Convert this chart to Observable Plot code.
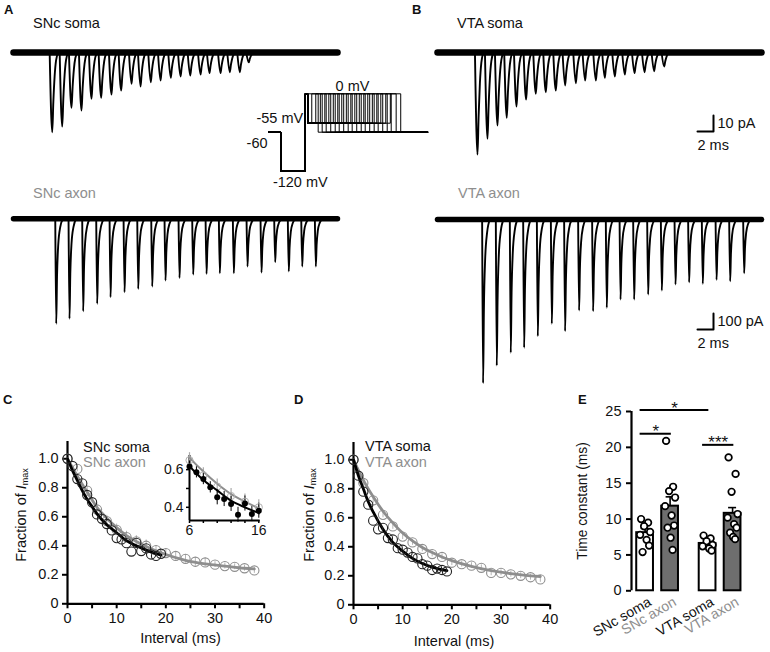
<!DOCTYPE html>
<html><head><meta charset="utf-8">
<script src="https://cdn.jsdelivr.net/npm/d3@7"></script>
<script src="https://cdn.jsdelivr.net/npm/@observablehq/plot@0.6"></script>
<style>
body{margin:0;background:#fff;}
#fig{position:relative;width:770px;height:652px;overflow:hidden;background:#fff;font-family:"Liberation Sans",Arial,sans-serif;}
#fig sub{font-size:0.62em;vertical-align:-0.25em;}
</style></head><body><div id="fig"></div>
<script>
// ---------------- DATA ----------------
// A/B: overlaid Na-current sweeps — peak time of each test spike (ms) and peak amplitude (pA)
const snSomaT = [4.84,6.09,7.25,8.5,9.75,10.96,12.25,13.46,14.75,15.88,17.16,18.38,19.66,20.88,22.09,23.38,24.5,25.88,27.04,28.29,29.41];
const snSomaA = [49.8,46.3,34.6,36.3,28.9,28.3,26.3,23.8,19.6,21.3,18.6,17.5,15.8,15,14.4,13.8,12.9,12.9,12.3,12.3,6.1];
const snAxonT = [5.34,7.0,8.71,10.46,12.13,13.88,15.59,17.34,19.0,20.75,22.46,24.13,25.79,27.54,29.25,31.0,32.71,34.41,36.09,37.79];
const snAxonA = [656,625,578,531,490,459,438,423,386,369,348,344,340,340,298,336,271,329,298,298];
const vtaSomaT = [5.0,6.25,7.5,8.66,9.88,11.08,12.29,13.54,14.79,15.95,17.29,18.45,19.79,20.91,22.16,23.41,24.63,25.88,27.08,28.33];
const vtaSomaA = [63.8,53.9,45.6,40.8,33.8,29.4,25.8,24.8,23.8,20.6,19.2,17.5,17.5,15.8,15,13.8,12.9,12.3,11.7,8.8];
const vtaAxonT = [5.7,7.41,9.16,10.83,12.54,14.29,15.95,17.7,19.45,21.16,22.88,24.58,26.33,28.04,29.75,31.45,33.16,34.88,36.58,38.33];
const vtaAxonA = [1023,913,833,802,729,652,698,569,573,552,500,500,469,444,406,392,402,377,386,336];
const sweepDur = 40.5;                       // ms of recorded baseline
const somaShape = [[-0.32,0],[0,1],[0.14,0.62],[0.3,0.3],[0.48,0.1],[0.75,0]];   // time offset (ms), fraction of peak
const axonShape = [[-0.12,0],[0,1],[0.1,0.55],[0.25,0.25],[0.5,0.08],[0.85,0]];
const scaleBarMs = 2, scaleBarSomaPA = 10, scaleBarAxonPA = 100;

// Voltage protocol (schematic)
const protoHold = -60, protoHyper = -120, protoInter = -55, protoStep = 0;
const protoHyperStart = 1.54, protoStepStart = 4.58, protoPrepulseEnd = 4.9, protoEnd = 19.9, protoPulseW = 1.3;
const protoTestStarts = [4.91,5.41,5.91,6.48,7.04,7.54,8.1,8.66,9.16,9.73,10.29,10.79,11.35,11.91,12.41,12.98,13.54,14.04,14.66,15.23];

// C/D: recovery from inactivation (fraction of Imax vs interval, ms)
const somaIntervals = [0,1,2,3,4,5,6,7,8,9,10,11,12,13,14,15,16,17,18,19];
const axonIntervals = [0,2,4,6,8,10,12,14,16,18,20,22,24,26,28,30,32,34,36,38];
const snSomaFrac = [1.0,0.95,0.86,0.83,0.75,0.70,0.616,0.586,0.55,0.506,0.453,0.444,0.418,0.36,0.42,0.364,0.382,0.34,0.33,0.345];
const snSomaErr  = [0,0.02,0.02,0.03,0.03,0.03,0.03,0.03,0.03,0.03,0.04,0.04,0.04,0.04,0.04,0.04,0.04,0.03,0.03,0.03];
const snAxonFrac = [1.0,0.93,0.78,0.65,0.57,0.51,0.46,0.43,0.40,0.37,0.35,0.33,0.31,0.29,0.285,0.27,0.26,0.255,0.245,0.23];
const snAxonErr  = [0,0.02,0.03,0.04,0.04,0.04,0.04,0.04,0.04,0.03,0.03,0.03,0.03,0.03,0.03,0.02,0.02,0.02,0.02,0.02];
const snSomaFitT = [0,1,2,3,4,5,6,8,10,12,14,16,18,19];
const snSomaFitV = [1.0,0.92,0.85,0.78,0.72,0.67,0.62,0.545,0.49,0.435,0.40,0.37,0.345,0.335];
const snAxonFitT = [0,2,4,6,8,10,12,14,16,18,20,24,28,32,36,38];
const snAxonFitV = [1.0,0.88,0.77,0.665,0.59,0.525,0.47,0.43,0.395,0.365,0.34,0.30,0.275,0.26,0.245,0.24];
const vtaSomaFrac = [1.0,0.89,0.78,0.69,0.58,0.52,0.53,0.46,0.45,0.39,0.38,0.36,0.33,0.32,0.28,0.27,0.24,0.25,0.24,0.23];
const vtaAxonFrac = [1.0,0.84,0.72,0.62,0.54,0.47,0.43,0.385,0.35,0.33,0.29,0.28,0.27,0.255,0.22,0.22,0.21,0.20,0.19,0.175];
const vtaAxonErr  = [0,0.02,0.02,0.02,0.02,0.02,0.02,0.02,0.02,0.02,0.02,0.02,0.02,0.02,0.02,0.02,0.02,0.02,0.02,0.02];
const vtaSomaFitT = [0,1,2,3,4,6,8,10,12,14,16,19];
const vtaSomaFitV = [1.0,0.89,0.80,0.71,0.64,0.52,0.43,0.37,0.32,0.285,0.26,0.235];
const vtaAxonFitT = [0,2,4,6,8,10,12,14,16,18,20,24,28,32,36,38];
const vtaAxonFitV = [1.0,0.86,0.745,0.645,0.565,0.495,0.44,0.395,0.36,0.33,0.305,0.265,0.235,0.215,0.20,0.195];

// E: time constants (ms)
const groups = ["SNc soma","SNc axon","VTA soma","VTA axon"];
const tauMean = [8.1, 11.8, 6.6, 10.8];
const tauSem  = [0.6, 1.3, 0.5, 0.8];
const tauCells = [
  [10.0,9.5,9.0,8.2,7.8,7.1,6.3,5.4],
  [20.9,14.5,13.9,13.0,11.8,10.5,9.1,8.8,7.4,5.7],
  [7.7,7.3,6.9,6.4,6.2,5.9,5.6],
  [18.6,16.3,13.8,10.7,10.2,9.3,8.8,8.1,7.5,7.2]
];
const sigTests = [{a:0,b:2,y:25.2,label:"*"},{a:0,b:1,y:21.9,label:"*"},{a:2,b:3,y:20.35,label:"***"}];
const eTicks = [0,5,10,15,20,25];

// ---------------- STYLE / HELPERS ----------------
const GRAY = "#8e8e8e";
const FONT = "'Liberation Sans', Arial, sans-serif";
const fig = document.getElementById("fig");
const baseStyle = {background:"none", overflow:"visible", fontFamily:FONT};
function place(node, left, top){ node.style.position="absolute"; node.style.left=left+"px"; node.style.top=top+"px"; node.style.maxWidth="none"; fig.appendChild(node); }
function addText(html, x, y, o={}){
  const d=document.createElement("div"); d.innerHTML=html;
  d.style.cssText=`position:absolute;left:${x}px;top:${y}px;font-size:${o.size||14.5}px;color:${o.color||"#111"};font-weight:${o.bold?"bold":"normal"};line-height:1;white-space:nowrap;`;
  if(o.center) d.style.transform=`translate(-50%,-50%)`+(o.rotate?` rotate(${o.rotate}deg)`:"");
  fig.appendChild(d);
}
const rows = (ts, vs, es) => ts.map((t,i)=>({t, v:vs[i], e: es ? es[i] : 0}));

// ---------------- A/B TRACES ----------------
function tracePlot({times, amps, shape, pxPerPA, left, top, above, below, width, bandW, bar}){
  const pts=[]; times.forEach((t0,i)=>shape.forEach(([dt,f])=>pts.push({sweep:i, t:t0+dt, pA:-amps[i]*f})));
  const marks=[
    Plot.line([[0,0],[sweepDur,0]],{stroke:"#000",strokeWidth:bandW}),
    Plot.line(pts,{x:"t",y:"pA",z:"sweep",stroke:"#000",strokeWidth:1.9,curve:"monotone-x"})
  ];
  if(bar){
    marks.push(Plot.line([[bar.t,bar.pA],[bar.t+scaleBarMs,bar.pA],[bar.t+scaleBarMs,bar.pA+bar.size]],{stroke:"#000",strokeWidth:2}));
    marks.push(Plot.text([bar.size+" pA"],{x:bar.t+scaleBarMs,y:bar.pA+bar.size/2,text:d=>d,textAnchor:"start",dx:4,fontSize:14.5,fill:"#111"}));
    marks.push(Plot.text([scaleBarMs+" ms"],{x:bar.t,y:bar.pA,text:d=>d,textAnchor:"start",dy:14,fontSize:14.5,fill:"#111"}));
  }
  const p=Plot.plot({width, height:above+below, margin:0, style:baseStyle,
    x:{domain:[0,width/8], axis:null}, y:{domain:[-below/pxPerPA, above/pxPerPA], axis:null}, marks});
  place(p,left,top);
}
tracePlot({times:snSomaT, amps:snSomaA, shape:somaShape, pxPerPA:1.6, left:13, top:30, above:22, below:110, width:330, bandW:6.5});
tracePlot({times:snAxonT, amps:snAxonA, shape:axonShape, pxPerPA:0.16, left:13, top:205, above:13.3, below:125, width:330, bandW:5.5});
tracePlot({times:vtaSomaT, amps:vtaSomaA, shape:somaShape, pxPerPA:1.6, left:436.7, top:30, above:22, below:130, width:333, bandW:6.5,
  bar:{t:32.5, pA:-49.4, size:scaleBarSomaPA}});
tracePlot({times:vtaAxonT, amps:vtaAxonA, shape:axonShape, pxPerPA:0.16, left:436.7, top:205, above:14, below:180, width:333, bandW:5.5,
  bar:{t:32.5, pA:-687.5, size:scaleBarAxonPA}});

// voltage protocol
{
  const pts=[];
  protoTestStarts.forEach((u,i)=>{
    [[0,protoHold],[protoHyperStart,protoHold],[protoHyperStart,protoHyper],[protoStepStart,protoHyper],[protoStepStart,protoStep],
     [protoPrepulseEnd,protoStep],[protoPrepulseEnd,protoInter],[u,protoInter],[u,protoStep],[u+protoPulseW,protoStep],
     [u+protoPulseW,protoHold],[protoEnd,protoHold]].forEach(([t,v],k)=>pts.push({sweep:i,k,t,v}));
  });
  const p=Plot.plot({width:protoEnd*8, height:100, margin:0, style:baseStyle,
    x:{domain:[0,protoEnd], axis:null},
    y:{type:"linear", domain:[protoHyper,protoHold,protoInter,protoStep], range:[90.7,51.7,42.7,13.3], axis:null},
    marks:[
      Plot.line(pts,{x:"t",y:"v",z:"sweep",stroke:"#000",strokeWidth:1}),
      Plot.text([protoStep],{x:10.5,y:d=>d,text:d=>d+" mV",dy:-7,fontSize:14.5,fill:"#111"}),
      Plot.text([protoInter],{x:protoStepStart,y:d=>d,text:d=>d+" mV",textAnchor:"end",dx:-2,dy:-5,fontSize:14.5,fill:"#111"}),
      Plot.text([protoHold],{x:0,y:d=>d,text:d=>String(d),textAnchor:"end",dx:-1,dy:11,fontSize:14.5,fill:"#111"}),
      Plot.text([protoHyper],{x:0.55,y:d=>d,text:d=>d+" mV",textAnchor:"start",dy:11,fontSize:14.5,fill:"#111"})
    ]});
  place(p,267.7,80);
}

// ---------------- C/D DECAY ----------------
const xTicks=[0,5,10,15,20,25,30,35,40];
function decayPlot({left, top, soma, axon, somaFit, axonFit}){
  const yMax=1.119;
  const p=Plot.plot({width:266.7, height:210.3, marginLeft:50, marginRight:20, marginTop:5, marginBottom:43, style:{...baseStyle,fontSize:"14.5px"},
    x:{domain:[0,40]}, y:{domain:[0,yMax]},
    marks:[
      Plot.ruleX([0],{y1:0,y2:yMax,strokeWidth:2.2}),
      Plot.ruleY([0],{x1:0,x2:40,strokeWidth:2.2}),
      Plot.axisX({ticks:xTicks, tickFormat:d=>d%10===0?String(d):"", tickSize:5, tickPadding:4, strokeWidth:2, fontSize:14.5, label:null, fill:"#111"}),
      Plot.axisY({ticks:[0,0.2,0.4,0.6,0.8,1.0], tickFormat:d=>d===0?"0":d.toFixed(1), tickSize:5, tickPadding:4, strokeWidth:2, fontSize:14.5, label:null, fill:"#111"}),
      Plot.ruleX(axon,{x:"t",y1:d=>d.v-d.e,y2:d=>d.v+d.e,stroke:"#b5b5b5",strokeWidth:1}),
      Plot.line(axonFit,{x:"t",y:"v",stroke:GRAY,strokeWidth:2.8,curve:"monotone-x"}),
      Plot.dot(axon,{x:"t",y:"v",r:4.6,stroke:GRAY,fill:"none",strokeWidth:1.1}),
      Plot.line(somaFit,{x:"t",y:"v",stroke:"#000",strokeWidth:2.8,curve:"monotone-x"}),
      Plot.dot(soma,{x:"t",y:"v",r:4.6,stroke:"#222",fill:"none",strokeWidth:1.1})
    ]});
  place(p,left,top);
}
const snSoma=rows(somaIntervals,snSomaFrac,snSomaErr), snAxon=rows(axonIntervals,snAxonFrac,snAxonErr);
const snSomaFit=rows(snSomaFitT,snSomaFitV), snAxonFit=rows(snAxonFitT,snAxonFitV);
decayPlot({left:16.7, top:436, soma:snSoma, axon:snAxon, somaFit:snSomaFit, axonFit:snAxonFit});
decayPlot({left:302.7, top:437, soma:rows(somaIntervals,vtaSomaFrac), axon:rows(axonIntervals,vtaAxonFrac,vtaAxonErr),
  somaFit:rows(vtaSomaFitT,vtaSomaFitV), axonFit:rows(vtaAxonFitT,vtaAxonFitV)});

// inset of C
{
  const x0=6,x1=16.2,y0=0.33,y1=0.675;
  const inS=snSoma.filter(d=>d.t>=x0&&d.t<=16), inA=snAxon.filter(d=>d.t>=x0&&d.t<=16);
  const p=Plot.plot({width:102.7, height:87, marginLeft:28, marginRight:4, marginTop:2, marginBottom:20, style:{...baseStyle,fontSize:"14px"},
    x:{domain:[x0,x1]}, y:{domain:[y0,y1]},
    marks:[
      Plot.ruleX([x0],{y1:y0,y2:y1,strokeWidth:2}),
      Plot.ruleY([y0],{x1:x0,x2:x1,strokeWidth:2}),
      Plot.axisX({ticks:[6,8,10,12,14,16], tickFormat:d=>(d===6||d===16)?String(d):"", tickSize:3, tickPadding:2, strokeWidth:1.5, fontSize:14, label:null, fill:"#111"}),
      Plot.axisY({ticks:[0.4,0.5,0.6], tickFormat:d=>Math.abs(d-0.5)<1e-9?"":d.toFixed(1), tickSize:3, tickPadding:3, strokeWidth:1.5, fontSize:14, label:null, fill:"#111"}),
      Plot.ruleX(inA,{x:"t",y1:d=>d.v-d.e,y2:d=>d.v+d.e,stroke:"#aaa",strokeWidth:1.2}),
      Plot.ruleX(inS,{x:"t",y1:d=>d.v-d.e,y2:d=>d.v+d.e,stroke:"#000",strokeWidth:1}),
      Plot.line(snAxonFit,{x:"t",y:"v",stroke:GRAY,strokeWidth:2,curve:"monotone-x",clip:true}),
      Plot.dot(inA,{x:"t",y:"v",r:3.6,stroke:"#b0b0b0",fill:"none",strokeWidth:1}),
      Plot.line(snSomaFit,{x:"t",y:"v",stroke:"#000",strokeWidth:2,curve:"monotone-x",clip:true}),
      Plot.dot(inS,{x:"t",y:"v",r:3,fill:"#000"})
    ]});
  place(p,161,452.9);
}

// ---------------- E BARS ----------------
{
  const pos=groups.map((g,i)=>i+1+(i>=2?0.5:0));
  const labelColor=["#111",GRAY,"#111",GRAY];
  const barFill=["#fff","#6e6e6e","#fff","#6e6e6e"];
  const jitterPattern=[-0.16,0.12,-0.04,0.2,-0.2,0.06,0.16,-0.1,0.02,0.1];
  const bars=groups.map((g,i)=>({g,pos:pos[i],mean:tauMean[i],sem:tauSem[i],fill:barFill[i],color:labelColor[i]}));
  const cells=tauCells.flatMap((arr,i)=>arr.map((tau,j)=>({pos:pos[i]+jitterPattern[j%jitterPattern.length],tau})));
  const sigs=sigTests.map(s=>({...s,x1:pos[s.a]-0.2,x2:pos[s.b]+0.05}));
  const xd0=0.456, xd1=4.95;
  const p=Plot.plot({width:56+(xd1-xd0)*25+5, height:264.3, marginLeft:56, marginRight:5, marginTop:25, marginBottom:60, style:{...baseStyle,fontSize:"14px"},
    x:{domain:[xd0,xd1], axis:null}, y:{domain:[0,25]},
    marks:[
      Plot.ruleX([xd0],{y1:0,y2:25,strokeWidth:2.2}),
      Plot.axisY({ticks:eTicks, tickSize:5, tickPadding:5, strokeWidth:2, fontSize:14.5, label:null, fill:"#111"}),
      Plot.rect(bars,{x1:d=>d.pos-0.335,x2:d=>d.pos+0.335,y1:0,y2:"mean",fill:"fill",stroke:"#000",strokeWidth:2}),
      Plot.ruleX(bars,{x:"pos",y1:"mean",y2:d=>d.mean+d.sem,strokeWidth:1.6}),
      Plot.ruleY(bars,{y:d=>d.mean+d.sem,x1:d=>d.pos-0.16,x2:d=>d.pos+0.16,strokeWidth:1.6}),
      Plot.dot(cells,{x:"pos",y:"tau",r:3.3,fill:"#fff",stroke:"#000",strokeWidth:1.7}),
      Plot.ruleY(sigs,{y:"y",x1:"x1",x2:"x2",strokeWidth:2}),
      Plot.text(sigs,{x:d=>(d.x1+d.x2)/2,y:"y",text:"label",dy:-2,fontSize:17,fill:"#111"}),
      Plot.text(bars,{x:"pos",y:0,text:"g",rotate:-30,textAnchor:"end",dx:5,dy:10,fontSize:14,fill:"color"})
    ]});
  place(p,574.7,385.7);
}

// ---------------- TEXT LABELS ----------------
addText("A",4,3.3,{bold:true,size:13});
addText("B",412,3.3,{bold:true,size:13});
addText("C",3,393,{bold:true,size:13});
addText("D",294,393,{bold:true,size:13});
addText("E",578,393,{bold:true,size:13});
addText("SNc soma",33,16);
addText("SNc axon",33,186,{color:GRAY});
addText("VTA soma",457,16);
addText("VTA axon",458,186,{color:GRAY});
addText("SNc soma",83,440);
addText("SNc axon",83,455,{color:GRAY});
addText("VTA soma",365,438.5);
addText("VTA axon",365,455,{color:GRAY});
addText("Fraction of <i>I</i><sub>max</sub>",22,515,{center:true,rotate:-90});
addText("Fraction of <i>I</i><sub>max</sub>",310,515,{center:true,rotate:-90});
addText("Interval (ms)",180.5,637.5,{center:true});
addText("Interval (ms)",454,641,{center:true});
addText("Time constant (ms)",583,501,{center:true,rotate:-90,size:13.8});
</script></body></html>
